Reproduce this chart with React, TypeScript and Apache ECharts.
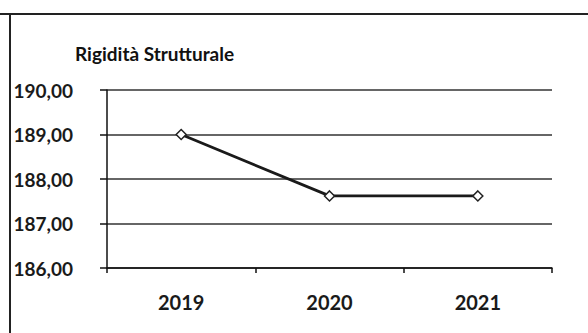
import React, { useEffect, useRef } from "react";
import * as echarts from "echarts";

const categories = ["2019", "2020", "2021"];
const values = [189.0, 187.62, 187.62];
const yMin = 186;
const yMax = 190;
const yStep = 1;
const titleText = "Rigidità Strutturale";

export default function App() {
  const ref = useRef<HTMLDivElement>(null);
  useEffect(() => {
    if (!ref.current) return;
    const chart = echarts.init(ref.current, null, { renderer: "svg" });
    chart.setOption({
      animation: false,
      backgroundColor: "#ffffff",
      title: {
        text: titleText,
        left: 70,
        top: 39,
        textStyle: { fontFamily: "Lato", fontWeight: "bold", fontSize: 19, color: "#111" },
      },
      graphic: [
        { type: "line", shape: { x1: 0, y1: 14, x2: 588, y2: 14 }, style: { stroke: "#222", lineWidth: 2 } },
        { type: "line", shape: { x1: 10, y1: 14, x2: 10, y2: 333 }, style: { stroke: "#222", lineWidth: 2 } },
      ],
      grid: { left: 107, right: 36, top: 90, bottom: 65, containLabel: false },
      xAxis: {
        type: "category",
        data: categories,
        boundaryGap: true,
        axisLine: { lineStyle: { color: "#111", width: 1.5 } },
        axisTick: { show: true, alignWithLabel: false, length: 5, lineStyle: { color: "#111", width: 1.5 } },
        axisLabel: { fontFamily: "Lato", fontWeight: "bold", fontSize: 20, color: "#1a1a1a", margin: 24 },
      },
      yAxis: {
        type: "value",
        min: yMin,
        max: yMax,
        interval: yStep,
        axisLine: { show: true, lineStyle: { color: "#111", width: 1.5 } },
        axisTick: { show: true, length: 7, lineStyle: { color: "#111", width: 1.5 } },
        splitLine: { show: true, lineStyle: { color: "#333", width: 1.5 } },
        axisLabel: {
          fontFamily: "Lato",
          fontWeight: "bold",
          fontSize: 19,
          color: "#1a1a1a",
          margin: 34,
          formatter: (v: number) => v.toFixed(2).replace(".", ","),
        },
      },
      series: [
        {
          type: "line",
          data: values,
          symbol: "diamond",
          symbolSize: 10,
          itemStyle: { color: "#fff", borderColor: "#222", borderWidth: 1.5 },
          lineStyle: { color: "#1a1a1a", width: 2.8 },
        },
      ],
    });
    return () => chart.dispose();
  }, []);
  return (
    <div
      ref={ref}
      style={{ position: "absolute", left: 0, top: 0, width: 588, height: 333 }}
    />
  );
}
